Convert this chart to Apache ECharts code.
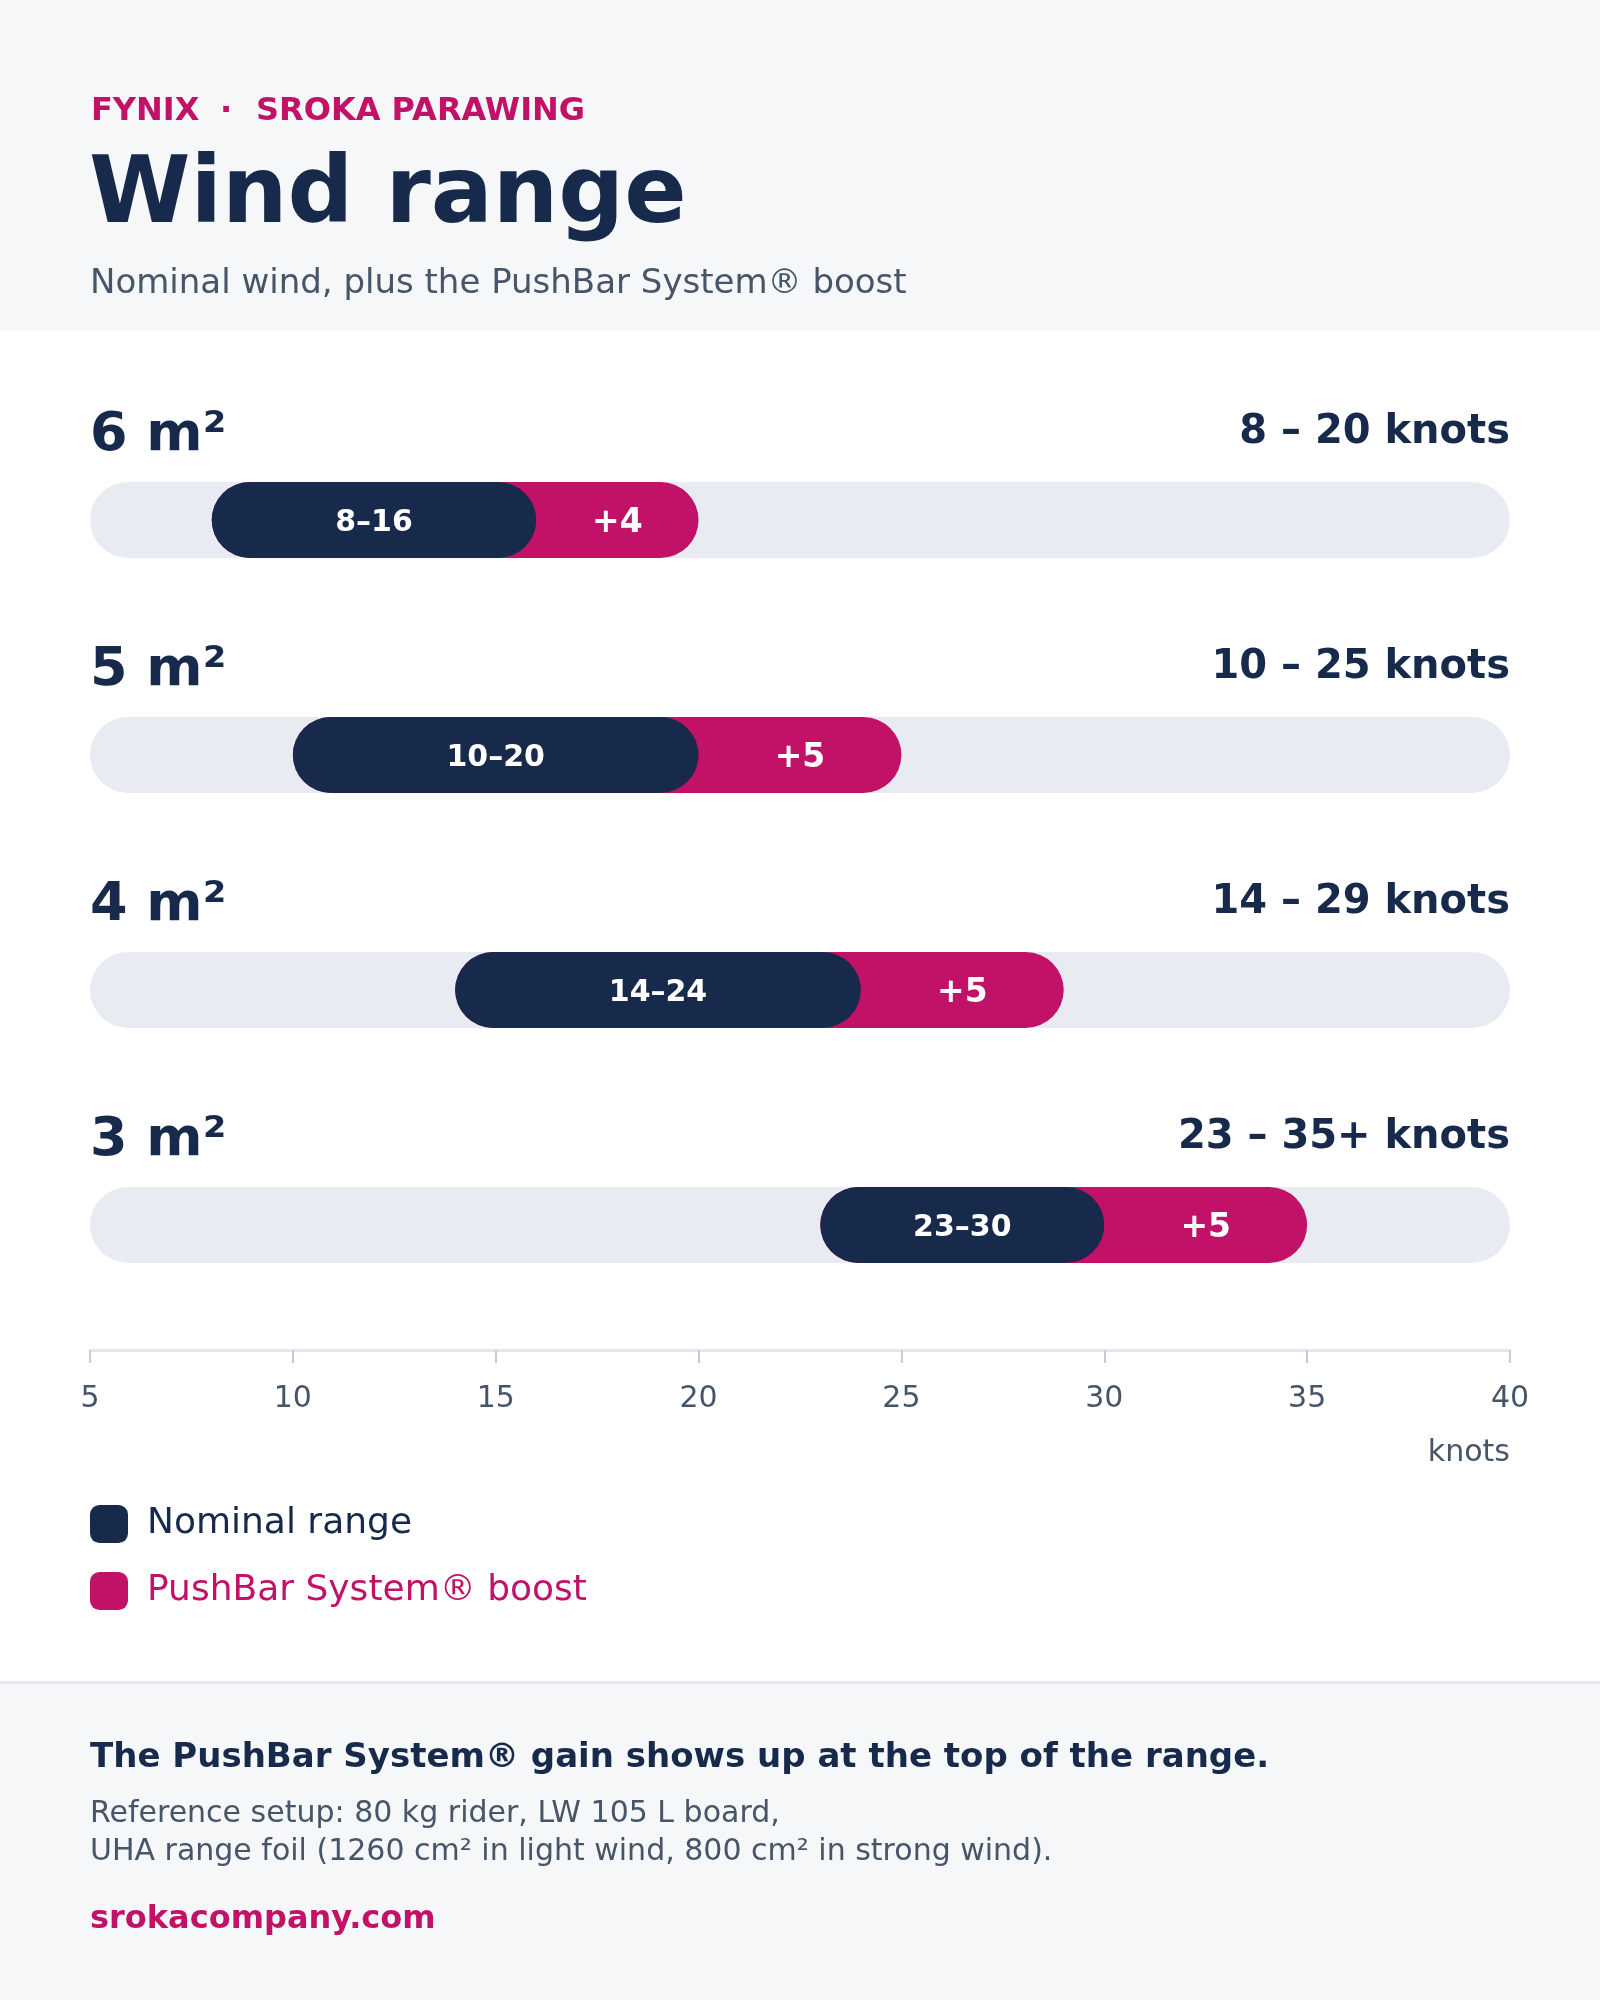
<!DOCTYPE html>
<html><head><meta charset="utf-8">
<script src="https://cdn.jsdelivr.net/npm/echarts@6/dist/echarts.min.js"></script>
<style>html,body{margin:0;padding:0;background:#fff}#c{width:1600px;height:2000px}</style>
</head><body><div id="c"></div>
<script>
const sizes = ['6 m²', '5 m²', '4 m²', '3 m²'];
const nominalLow = [8, 10, 14, 23];
const nominalHigh = [16, 20, 24, 30];
const boost = [4, 5, 5, 5];
const rangeText = ['8 – 20 knots', '10 – 25 knots', '14 – 29 knots', '23 – 35+ knots'];
const axisMin = 5, axisMax = 40, axisStep = 5;
const seriesNames = ['Nominal range', 'PushBar System® boost'];

const NAVY = '#172a4c', PINK = '#c11268', TRACK = '#e8ebf2', GRAY = '#475569';
const FONT = '"DejaVu Sans", sans-serif';
const BAR_RATIO = 76 / 235;

function pill(api, a, b, fill) {
  const cat = api.value(0);
  const p0 = api.coord([a, cat]);
  const p1 = api.coord([b, cat]);
  const h = api.size([0, 1])[1] * BAR_RATIO;
  return { type: 'rect', shape: { x: p0[0], y: p0[1] - h / 2, width: p1[0] - p0[0], height: h, r: h / 2 }, style: { fill: fill } };
}
function label(api, a, b, text, size) {
  const cat = api.value(0);
  const p0 = api.coord([a, cat]);
  const p1 = api.coord([b, cat]);
  return { type: 'text', x: (p0[0] + p1[0]) / 2, y: p0[1] + 3, z2: 10,
    style: { text: text, fill: '#ffffff', font: 'bold ' + size + 'px ' + FONT, align: 'center', verticalAlign: 'middle' } };
}

const trackData = sizes.map((s, i) => [i, axisMin, axisMax]);
const boostData = sizes.map((s, i) => [i, nominalLow[i], nominalHigh[i] + boost[i]]);
const nominalData = sizes.map((s, i) => [i, nominalLow[i], nominalHigh[i]]);

const chart = echarts.init(document.getElementById('c'), null, { renderer: 'canvas' });
chart.setOption({
  backgroundColor: '#ffffff',
  animation: false,
  grid: { left: 90, right: 90, top: 402.5, bottom: 657.5 },
  xAxis: {
    type: 'value', min: axisMin, max: axisMax, interval: axisStep, offset: 7.5,
    axisLine: { show: true, lineStyle: { color: '#e3e7ef', width: 3 } },
    axisTick: { show: true, length: 13, lineStyle: { color: '#c6ccd8', width: 2 } },
    axisLabel: { fontSize: 30, color: GRAY, fontFamily: FONT, margin: 49, verticalAlign: 'middle' },
    splitLine: { show: false }
  },
  yAxis: { type: 'category', data: sizes, inverse: true, show: false },
  legend: {
    orient: 'vertical', left: 90, top: 1505, padding: 0,
    itemWidth: 38, itemHeight: 38, itemGap: 29, icon: 'roundRect', selectedMode: false,
    textStyle: { fontSize: 36, fontFamily: FONT, padding: [2, 0, 0, 14] },
    data: [
      { name: seriesNames[0], textStyle: { color: NAVY } },
      { name: seriesNames[1], textStyle: { color: PINK } }
    ]
  },
  series: [
    {
      type: 'custom', name: 'track', data: trackData, encode: { x: [1, 2], y: 0 }, z: 1,
      renderItem: function (params, api) {
        const i = params.dataIndex;
        const cat = api.value(0);
        const pl = api.coord([api.value(1), cat]);
        const pr = api.coord([api.value(2), cat]);
        return { type: 'group', children: [
          pill(api, api.value(1), api.value(2), TRACK),
          { type: 'text', x: pl[0], y: pl[1] - 84,
            style: { text: sizes[i], fill: NAVY, font: 'bold 54px ' + FONT, align: 'left', verticalAlign: 'middle' } },
          { type: 'text', x: pr[0], y: pr[1] - 87.5,
            style: { text: rangeText[i], fill: NAVY, font: 'bold 40px ' + FONT, align: 'right', verticalAlign: 'middle' } }
        ] };
      }
    },
    {
      type: 'custom', name: seriesNames[1], data: boostData, encode: { x: [1, 2], y: 0 }, z: 2,
      itemStyle: { color: PINK },
      renderItem: function (params, api) {
        const i = params.dataIndex;
        return { type: 'group', children: [
          pill(api, api.value(1), api.value(2), PINK),
          label(api, nominalHigh[i], api.value(2), '+' + boost[i], 33)
        ] };
      }
    },
    {
      type: 'custom', name: seriesNames[0], data: nominalData, encode: { x: [1, 2], y: 0 }, z: 3,
      itemStyle: { color: NAVY },
      renderItem: function (params, api) {
        const a = api.value(1), b = api.value(2);
        return { type: 'group', children: [
          pill(api, a, b, NAVY),
          label(api, a, b, a + '–' + b, 30)
        ] };
      }
    }
  ],
  graphic: { elements: [
    { type: 'rect', z: -10, shape: { x: 0, y: 0, width: 1600, height: 330 }, style: { fill: '#f5f7f9' } },
    { type: 'rect', z: -10, shape: { x: 0, y: 1682, width: 1600, height: 318 }, style: { fill: '#f5f7f9' } },
    { type: 'rect', z: -9, shape: { x: 0, y: 1681, width: 1600, height: 3 }, style: { fill: '#e6e9f0' } },
    { type: 'text', x: 91, y: 111.5, style: { text: 'FYNIX', fill: PINK, font: 'bold 32px ' + FONT, align: 'left', verticalAlign: 'middle' } },
    { type: 'text', x: 226, y: 111.5, style: { text: '·', fill: PINK, font: 'bold 32px ' + FONT, align: 'center', verticalAlign: 'middle' } },
    { type: 'text', x: 256, y: 111.5, style: { text: 'SROKA PARAWING', fill: PINK, font: 'bold 32px ' + FONT, align: 'left', verticalAlign: 'middle' } },
    { type: 'text', x: 89, y: 198, style: { text: 'Wind range', fill: NAVY, font: 'bold 92px ' + FONT, align: 'left', verticalAlign: 'middle' } },
    { type: 'text', x: 90, y: 284, style: { text: 'Nominal wind, plus the PushBar System® boost', fill: GRAY, font: '34px ' + FONT, align: 'left', verticalAlign: 'middle' } },
    { type: 'text', x: 1510, y: 1453, style: { text: 'knots', fill: GRAY, font: '30px ' + FONT, align: 'right', verticalAlign: 'middle' } },
    { type: 'text', x: 90, y: 1758.5, style: { text: 'The PushBar System® gain shows up at the top of the range.', fill: NAVY, font: 'bold 34px ' + FONT, align: 'left', verticalAlign: 'middle' } },
    { type: 'text', x: 90, y: 1814, style: { text: 'Reference setup: 80 kg rider, LW 105 L board,', fill: GRAY, font: '30px ' + FONT, align: 'left', verticalAlign: 'middle' } },
    { type: 'text', x: 90, y: 1852, style: { text: 'UHA range foil (1260 cm² in light wind, 800 cm² in strong wind).', fill: GRAY, font: '30px ' + FONT, align: 'left', verticalAlign: 'middle' } },
    { type: 'text', x: 90, y: 1920, style: { text: 'srokacompany.com', fill: PINK, font: 'bold 32px ' + FONT, align: 'left', verticalAlign: 'middle' } }
  ] }
});
</script></body></html>
